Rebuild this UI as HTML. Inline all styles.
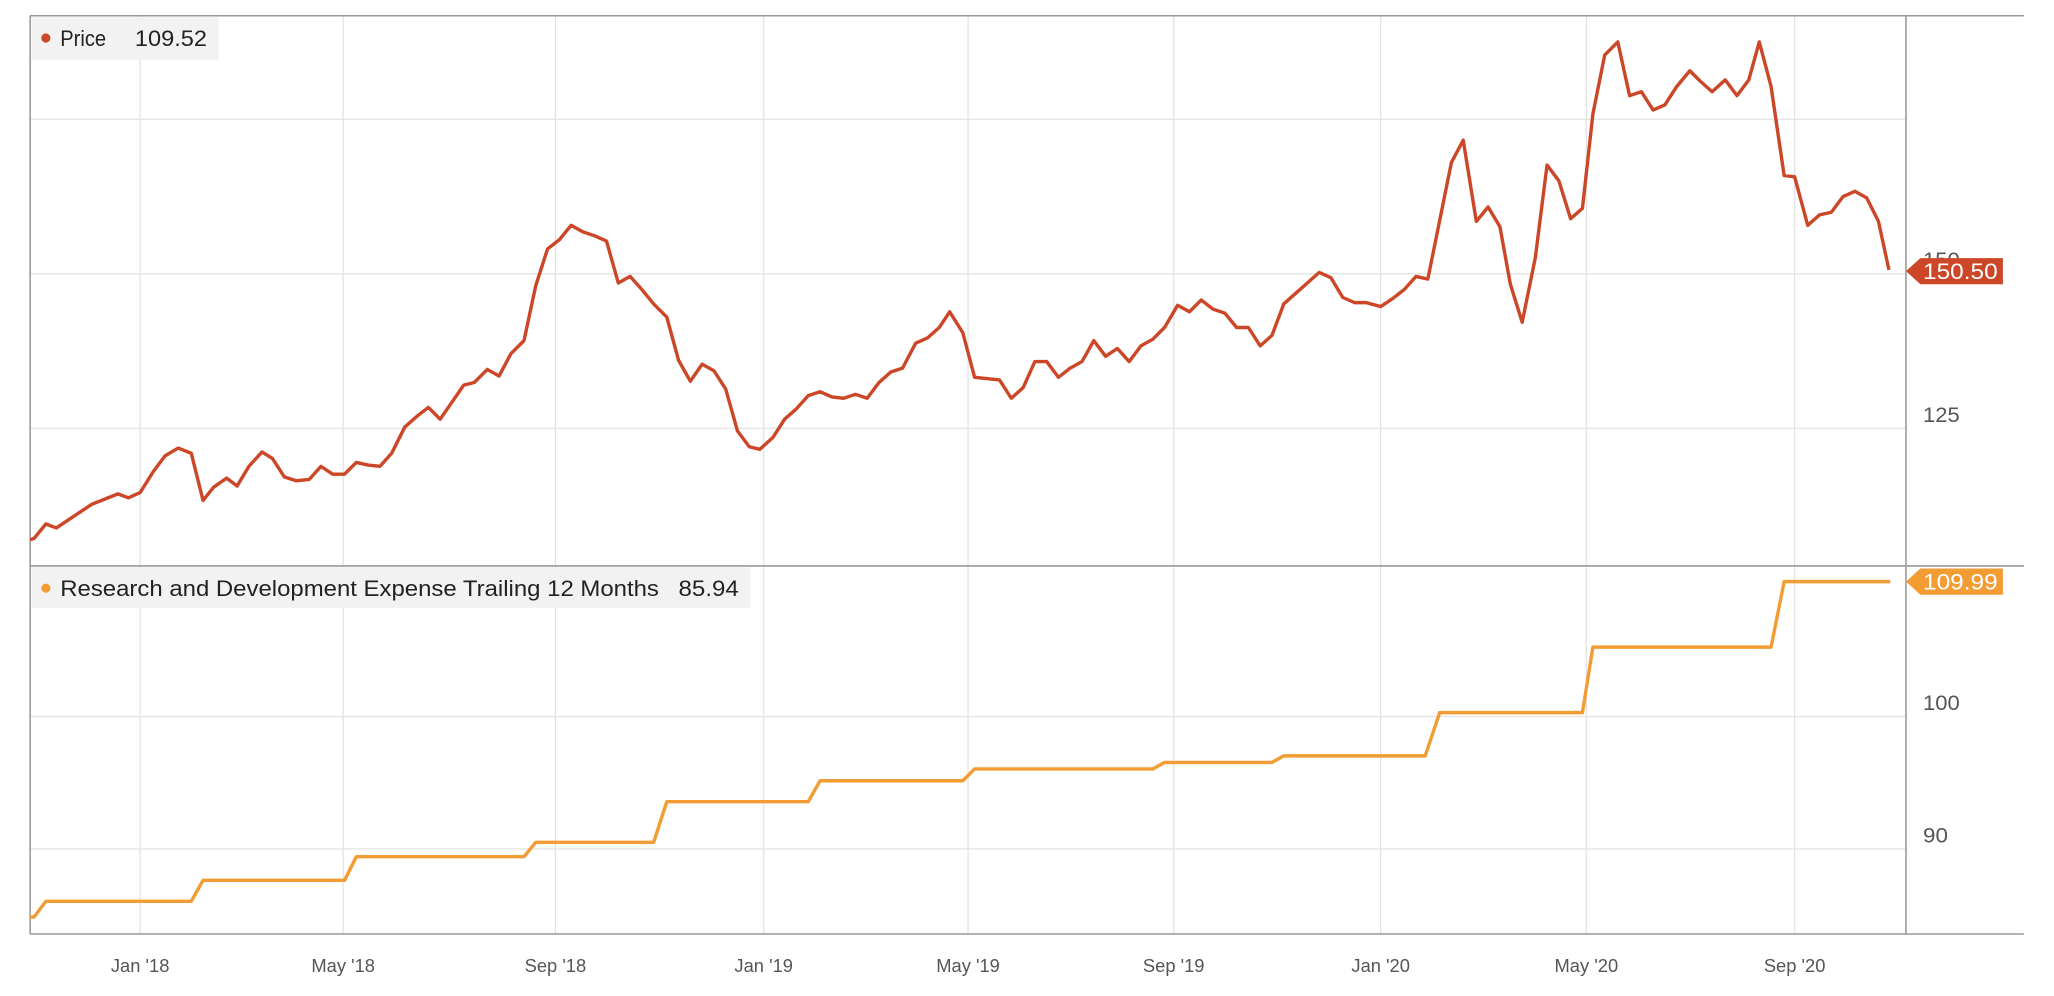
<!DOCTYPE html>
<html><head><meta charset="utf-8"><style>
html,body{margin:0;padding:0;background:#fff;}
svg{display:block;}
text{font-family:"Liberation Sans",sans-serif;}
</style></head><body>
<svg width="2054" height="996" viewBox="0 0 1568 760.3" xmlns="http://www.w3.org/2000/svg">
<rect width="1568" height="760.3" fill="#fff"/>
<g stroke="#e3e3e3" stroke-width="1">
<line x1="23" y1="91" x2="1455" y2="91"/><line x1="23" y1="209" x2="1455" y2="209"/><line x1="23" y1="327" x2="1455" y2="327"/>
<line x1="23" y1="547" x2="1455" y2="547"/><line x1="23" y1="648" x2="1455" y2="648"/>
<g>
<line x1="107" y1="12" x2="107" y2="713"/><line x1="262" y1="12" x2="262" y2="713"/><line x1="424" y1="12" x2="424" y2="713"/><line x1="583" y1="12" x2="583" y2="713"/><line x1="739" y1="12" x2="739" y2="713"/><line x1="896" y1="12" x2="896" y2="713"/><line x1="1054" y1="12" x2="1054" y2="713"/><line x1="1211" y1="12" x2="1211" y2="713"/><line x1="1370" y1="12" x2="1370" y2="713"/>
</g></g>
<g stroke="#999" stroke-width="1.2" fill="none">
<line x1="23" y1="12" x2="1545" y2="12"/>
<line x1="23" y1="12" x2="23" y2="713"/>
<line x1="1455" y1="12" x2="1455" y2="713"/>
<line x1="23" y1="432" x2="1545" y2="432"/>
<line x1="23" y1="713" x2="1545" y2="713"/>
</g>
<rect x="24" y="13" width="143" height="33" fill="#f2f2f2"/>
<circle cx="35" cy="29" r="3.5" fill="#cc4727"/>
<text x="46" y="35" font-size="17" fill="#222" textLength="35" lengthAdjust="spacingAndGlyphs">Price</text>
<text x="103" y="35" font-size="17" fill="#222" textLength="55" lengthAdjust="spacingAndGlyphs">109.52</text>
<rect x="24" y="433" width="549" height="31" fill="#f2f2f2"/>
<circle cx="35" cy="449" r="3.5" fill="#f39c34"/>
<text x="46" y="455" font-size="17" fill="#222" textLength="457" lengthAdjust="spacingAndGlyphs">Research and Development Expense Trailing 12 Months</text>
<text x="518" y="455" font-size="17" fill="#222" textLength="46" lengthAdjust="spacingAndGlyphs">85.94</text>
<polyline fill="none" stroke="#cc4727" stroke-width="2.6" stroke-linejoin="round" points="23,412 26,411 35,400 43,403 52,397 61,391 70,385 80,381 90,377 98,380 107,376 117,360 126,348 136,342 146,346 155,382 163,372 173,365 181,371 190,356 200,345 208,350 217,364 226,367 236,366 245,356 254,362 263,362 272,353 281,355 290,356 299,346 309,326 318,318 327,311 336,320 345,307 354,294 362,292 372,282 381,287 390,270 400,260 409,218 418,190 427,183 436,172 445,177 454,180 463,184 472,216 481,211 490,221 499,232 509,242 518,275 527,291 536,278 545,283 554,297 563,329 572,341 580,343 590,334 599,320 608,312 617,302 626,299 635,303 644,304 653,301 662,304 671,292 680,284 689,281 699,262 708,258 717,250 725,238 735,254 744,288 753,289 763,290 772,304 781,296 790,276 799,276 808,288 817,281 826,276 835,260 844,272 853,266 862,276 871,264 880,259 889,250 899,233 908,238 917,229 926,236 935,239 944,250 953,250 962,264 971,256 980,232 989,224 998,216 1007,208 1016,212 1025,227 1034,231 1043,231 1054,234 1063,228 1072,221 1081,211 1090,213 1108,124 1117,107 1127,169 1136,158 1145,173 1153,217 1162,246 1172,197 1181,126 1190,138 1199,167 1208,159 1216,87 1225,42 1235,32 1244,73 1253,70 1262,84 1271,80 1280,66 1290,54 1298,62 1307,70 1317,61 1326,73 1335,61 1343,32 1352,66 1362,134 1370,135 1380,172 1389,164 1398,162 1407,150 1416,146 1425,151 1434,169 1442,206"/>
<polyline fill="none" stroke="#f39c34" stroke-width="2.6" stroke-linejoin="round" points="23,700 26,700 35,688 146,688 155,672 263,672 272,654 400,654 409,643 499,643 509,612 617,612 626,596 735,596 744,587 880,587 889,582 971,582 980,577 1088,577 1099,544 1208,544 1216,494 1352,494 1362,444 1443,444"/>
<g font-size="16" fill="#555">
<text x="1468" y="322" textLength="28" lengthAdjust="spacingAndGlyphs">125</text>
<text x="1468" y="542" textLength="28" lengthAdjust="spacingAndGlyphs">100</text>
<text x="1468" y="643" textLength="19" lengthAdjust="spacingAndGlyphs">90</text>
<text x="1468" y="204" textLength="28" lengthAdjust="spacingAndGlyphs">150</text>
</g>
<polygon points="1455,207 1466,197 1529,197 1529,217 1466,217" fill="#cc4727"/>
<text x="1468" y="213" font-size="17" fill="#fff" textLength="57" lengthAdjust="spacingAndGlyphs">150.50</text>
<polygon points="1455,444 1466,434 1529,434 1529,454 1466,454" fill="#f39c34"/>
<text x="1468" y="450" font-size="17" fill="#fff" textLength="57" lengthAdjust="spacingAndGlyphs">109.99</text>
<g font-size="14" fill="#555" text-anchor="middle">
<text x="107" y="742">Jan '18</text><text x="262" y="742">May '18</text><text x="424" y="742">Sep '18</text><text x="583" y="742">Jan '19</text><text x="739" y="742">May '19</text><text x="896" y="742">Sep '19</text><text x="1054" y="742">Jan '20</text><text x="1211" y="742">May '20</text><text x="1370" y="742">Sep '20</text>
</g>
</svg>
</body></html>
